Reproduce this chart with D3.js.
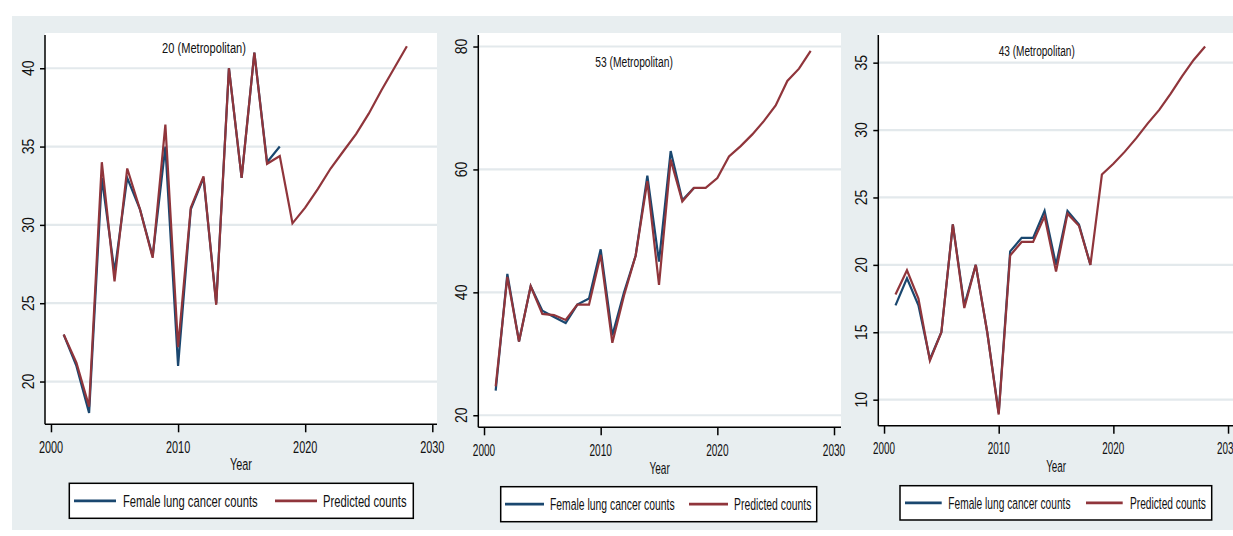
<!DOCTYPE html>
<html><head><meta charset="utf-8">
<script src="https://cdn.jsdelivr.net/npm/d3@7/dist/d3.min.js"></script>
<style>
body{margin:0;background:#fff}
svg{display:block}
text{font-family:"Liberation Sans",Arial,sans-serif;fill:#111}
</style>
</head><body>
<svg id="chart" width="1233" height="536"></svg>
<script>
// ---------------- data ----------------
const obsYears  = [2001,2002,2003,2004,2005,2006,2007,2008,2009,2010,2011,2012,2013,2014,2015,2016,2017,2018];
const predYears = [2001,2002,2003,2004,2005,2006,2007,2008,2009,2010,2011,2012,2013,2014,2015,2016,2017,2018,
                   2019,2020,2021,2022,2023,2024,2025,2026,2027,2028];

const panelTitles = ["20 (Metropolitan)", "53 (Metropolitan)", "43 (Metropolitan)"];

const observed20  = [23,21,18,33,27,33,31,28,35,21,31,33,25,40,33,41,34,35];
const predicted20 = [23,21.2,18.4,34,26.4,33.6,31,27.9,36.4,22.2,31.1,33.1,24.9,40,33,41,33.9,34.4,
                     30.1,31.1,32.3,33.6,34.7,35.8,37.1,38.6,40.0,41.4];

const observed53  = [24,43,32,41,37,36,35,38,39,47,33,40,46,59,45,63,55,57];
const predicted53 = [24.7,42.5,32,41,36.5,36.3,35.5,38,38,46.1,31.8,39.5,46,58.1,41.2,61.6,54.8,57,
                     57,58.6,62.1,63.8,65.7,67.9,70.4,74.4,76.4,79.3];

const observed43  = [17,19,17,13,15,23,17,20,15,9,21,22,22,24,20,24,23,20];
const predicted43 = [17.8,19.6,17.5,12.9,15,23,16.8,20,15,8.9,20.7,21.7,21.7,23.6,19.5,23.8,22.9,20,
                     26.7,27.5,28.4,29.4,30.5,31.5,32.7,34.0,35.2,36.2];

const xTicks   = [2000, 2010, 2020, 2030];
const yTicks20 = [20, 25, 30, 35, 40];
const yTicks53 = [20, 40, 60, 80];
const yTicks43 = [10, 15, 20, 25, 30, 35];

const xLabel = "Year";
const legendLabels = ["Female lung cancer counts", "Predicted counts"];

// ---------------- style / layout ----------------
const COLORS = {obs: "#1a476f", pred: "#90353b", bg: "#e8eef0", grid: "#e3e9ec"};
const BASE_SX = 0.66;

const panels = [
  {title: panelTitles[0], obs: observed20, pred: predicted20, yTicks: yTicks20,
   left: 45, right: 437, top: 33, bottom: 424.3,
   xDom: [1999.53, 2030.37], yDom: [17.27, 42.25],
   hs: 1.0, titleX: 204, titleY: 47.7, yearY: 464,
   legend: {x: 69.3, y: 483.3, w: 344, h: 35, l1: 4.7, len: 42, t1: 53.7, l2: 205.7, t2: 253.7}},
  {title: panelTitles[1], obs: observed53, pred: predicted53, yTicks: yTicks53,
   left: 478.3, right: 841, top: 33, bottom: 427.3,
   xDom: [1999.51, 2030.6], yDom: [18.04, 82.2],
   hs: 0.926, titleX: 634, titleY: 62, yearY: 468,
   legend: {x: 500.7, y: 486.7, w: 316, h: 35, l1: 4.3, len: 39, t1: 49.3, l2: 188.3, t2: 233.3}},
  {title: panelTitles[2], obs: observed43, pred: predicted43, yTicks: yTicks43,
   left: 878.3, right: 1234, top: 33, bottom: 425.7,
   xDom: [1999.5, 2030.52], yDom: [8.07, 37.2],
   hs: 0.908, titleX: 1036.7, titleY: 51, yearY: 466,
   legend: {x: 900, y: 485.7, w: 311.7, h: 34.3, l1: 5, len: 36.7, t1: 48.3, l2: 186, t2: 230}}
];

const svg = d3.select("#chart");

// outer graph region
svg.append("rect").attr("x", 12).attr("y", 16).attr("width", 1233 - 12).attr("height", 514)
   .attr("fill", COLORS.bg);

function addText(g, x, y, str, size, sx, anchor, sy) {
  return g.append("text")
    .attr("transform", `translate(${x},${y}) scale(${sx},${sy || 1})`)
    .attr("text-anchor", anchor || "start")
    .attr("font-size", size)
    .text(str);
}

panels.forEach(p => {
  const g = svg.append("g");
  const x = d3.scaleLinear().domain(p.xDom).range([p.left, p.right]);
  const y = d3.scaleLinear().domain(p.yDom).range([p.bottom, p.top]);

  // plot region
  g.append("rect").attr("x", p.left).attr("y", p.top)
   .attr("width", p.right - p.left).attr("height", p.bottom - p.top).attr("fill", "#fff");

  // gridlines
  g.selectAll(".grid").data(p.yTicks).join("line")
   .attr("x1", p.left).attr("x2", p.right)
   .attr("y1", d => y(d)).attr("y2", d => y(d))
   .attr("stroke", COLORS.grid).attr("stroke-width", 2.2);

  // title
  addText(g, p.titleX, p.titleY + 5.2, p.title, 15, 0.74 * p.hs, "middle");

  // lines
  const line = d3.line().x(d => x(d[0])).y(d => y(d[1]));
  g.append("path").datum(obsYears.map((yr, i) => [yr, p.obs[i]]))
   .attr("d", line).attr("fill", "none").attr("stroke", COLORS.obs).attr("stroke-width", 2.2);
  g.append("path").datum(predYears.map((yr, i) => [yr, p.pred[i]]))
   .attr("d", line).attr("fill", "none").attr("stroke", COLORS.pred).attr("stroke-width", 2.2);

  // x axis
  const xa = g.append("g").attr("transform", `translate(0,${p.bottom})`)
    .call(d3.axisBottom(x).tickValues(xTicks).tickSize(8).tickFormat(""));
  xa.select(".domain").attr("stroke", "#000").attr("stroke-width", 1.5)
    .attr("d", `M${p.left},0H${p.right}`);
  xa.selectAll(".tick line").attr("stroke", "#000").attr("stroke-width", 1.5);
  xTicks.forEach(t => addText(g, x(t), p.bottom + 28.4, String(t), 16.5, BASE_SX * p.hs, "middle"));

  // x label
  addText(g, (p.left + p.right) / 2, p.yearY + 6, xLabel, 16.5, BASE_SX * p.hs, "middle");

  // y axis
  const ya = g.append("g").attr("transform", `translate(${p.left},0)`)
    .call(d3.axisLeft(y).tickValues(p.yTicks).tickSize(5).tickFormat(""));
  ya.select(".domain").attr("stroke", "#000").attr("stroke-width", 1.5)
    .attr("d", `M0,${p.top + 2}V${p.bottom}`);
  ya.selectAll(".tick line").attr("stroke", "#000").attr("stroke-width", 1.5);
  p.yTicks.forEach(t => {
    g.append("text")
     .attr("transform", `translate(${p.left - 11},${y(t)}) rotate(-90) scale(0.85,1.05)`)
     .attr("text-anchor", "middle").attr("font-size", 16.5).text(String(t));
  });

  // legend
  const L = p.legend;
  const lg = g.append("g").attr("transform", `translate(${L.x},${L.y})`);
  lg.append("rect").attr("width", L.w).attr("height", L.h)
    .attr("fill", "#fff").attr("stroke", "#000").attr("stroke-width", 1.5);
  const cy = L.h / 2;
  lg.append("line").attr("x1", L.l1).attr("x2", L.l1 + L.len).attr("y1", cy).attr("y2", cy)
    .attr("stroke", COLORS.obs).attr("stroke-width", 2.8);
  lg.append("line").attr("x1", L.l2).attr("x2", L.l2 + L.len).attr("y1", cy).attr("y2", cy)
    .attr("stroke", COLORS.pred).attr("stroke-width", 2.8);
  addText(lg, L.t1, cy + 6.2, legendLabels[0], 17, BASE_SX * p.hs, "start");
  addText(lg, L.t2, cy + 6.2, legendLabels[1], 17, BASE_SX * p.hs, "start");
});
</script>
</body></html>
